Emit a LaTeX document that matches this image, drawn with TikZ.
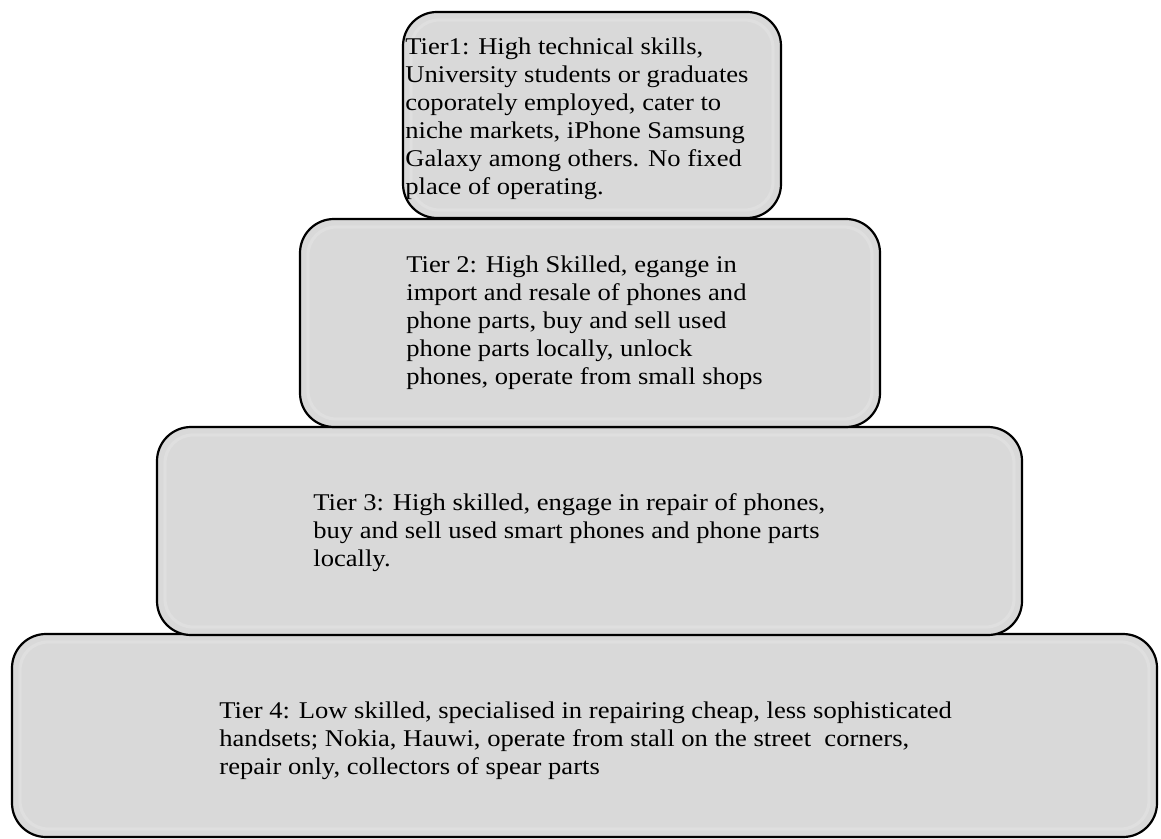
\documentclass[tikz,border=0pt]{standalone}
\usepackage{fontspec}
\setmainfont[FakeStretch=1.107]{Liberation Serif}
\begin{document}
\begin{tikzpicture}[x=0.5pt, y=-0.5pt, font=\fontsize{12}{14}\selectfont, line join=round, line cap=round,
	tierbox/.style={draw=black, line width=1.1pt, fill=gray!30, rounded corners=17pt},
	bevel/.style={draw=white!75!gray, line width=1.6pt, rounded corners=14pt},
	tiertext/.style={anchor=west, align=left, inner sep=0pt}]
			\useasboundingbox (0,0) rectangle (1161,839);
			% boxes, bottom first
			\draw[tierbox] (12,634) rectangle (1157,837);
			\draw[bevel] (20,642) rectangle (1149,829);
			\draw[tierbox] (157,427) rectangle (1022,635);
			\draw[bevel] (165,435) rectangle (1014,627);
			\draw[tierbox] (300,219) rectangle (880,427);
			\draw[bevel] (308,227) rectangle (872,419);
			\draw[tierbox] (403,12) rectangle (781,218);
			\draw[bevel] (411,20) rectangle (773,210);
			% texts
			\node[tiertext] (tier1) at (405,119) {Tier1: High technical skills,\\ University students or graduates\\ coporately employed, cater to\\ niche markets, iPhone Samsung\\ Galaxy among others. No fixed\\ place of operating.};
			\node[tiertext] (tier2) at (406,323) {Tier 2: High Skilled, egange in\\ import and resale of phones and\\ phone parts, buy and sell used\\ phone parts locally, unlock\\ phones, operate from small shops};
			\node[tiertext] (tier3) at (313,533) {Tier 3: High skilled, engage in repair of phones,\\ buy and sell used smart phones and phone parts\\ locally.};
			\node[tiertext] (tier4) at (219,741) {Tier 4: Low skilled, specialised in repairing cheap, less sophisticated\\ handsets; Nokia, Hauwi, operate from stall on the street\ \ corners,\\ repair only, collectors of spear parts};
		\end{tikzpicture}
\end{document}
